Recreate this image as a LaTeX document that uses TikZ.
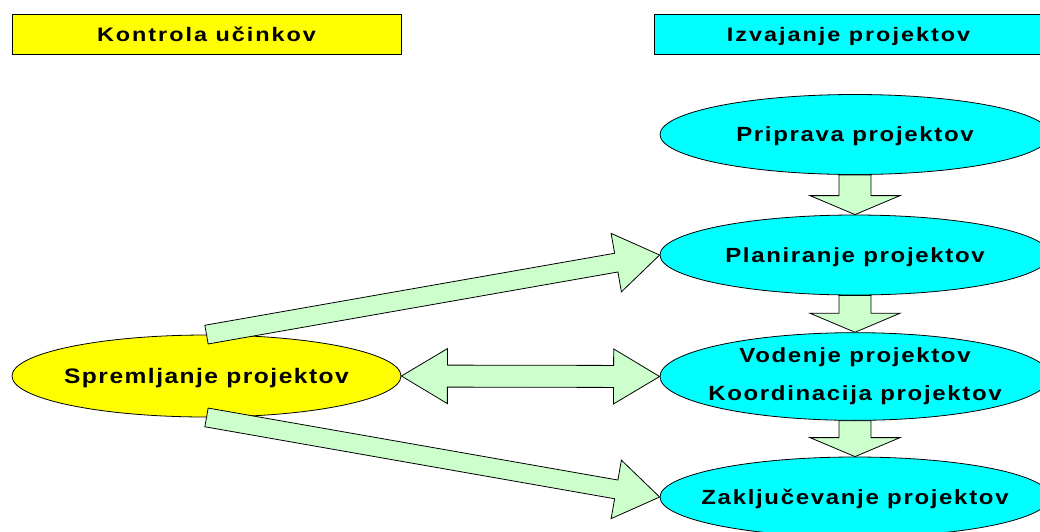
\documentclass[tikz,border=0pt]{standalone}
\usepackage{graphicx}
\usepackage{fontspec}
\usetikzlibrary{calc,shapes.geometric}
\setmainfont{Liberation Sans}
\newfontfamily\hdrfont{Liberation Sans}[LetterSpace=8.5]
\newfontfamily\ellfont{Liberation Sans}[LetterSpace=7]
\newfontfamily\sprfont{Liberation Sans}[LetterSpace=6]

\definecolor{hdryellow}{HTML}{FFFF00}
\definecolor{hdrcyan}{HTML}{00FFFF}
\definecolor{arrowgreen}{HTML}{CCFFCC}

% centred, slightly widened text of zero width, so the shape keeps its own size
\newcommand\ctr[2][1.17]{\makebox[0pt]{\scalebox{#1}[1]{#2}}}

% block arrow: start, end, half shaft width, half head width, head length
\newcommand\blockarrow[5]{%
  \path ($(#2)!#5!(#1)$) coordinate (hb);
  \draw[blockarr]
    ($(#1)!#3!90:(#2)$) -- ($(hb)!#3!90:(#2)$) -- ($(hb)!#4!90:(#2)$) --
    (#2) --
    ($(hb)!#4!-90:(#2)$) -- ($(hb)!#3!-90:(#2)$) -- ($(#1)!#3!-90:(#2)$) -- cycle;
}
% block arrow with heads at both ends
\newcommand\doublearrow[5]{%
  \path ($(#2)!#5!(#1)$) coordinate (hb1);
  \path ($(#1)!#5!(#2)$) coordinate (hb2);
  \draw[blockarr]
    (#1) -- ($(hb2)!#4!90:(#2)$) -- ($(hb2)!#3!90:(#2)$) --
    ($(hb1)!#3!90:(#2)$) -- ($(hb1)!#4!90:(#2)$) -- (#2) --
    ($(hb1)!#4!-90:(#2)$) -- ($(hb1)!#3!-90:(#2)$) --
    ($(hb2)!#3!-90:(#2)$) -- ($(hb2)!#4!-90:(#2)$) -- cycle;
}

\tikzset{
  hdrbox/.style={draw=black, line width=0.8pt, minimum width=389pt,
    minimum height=40pt, inner sep=0pt, text height=14pt, text depth=0pt,
    font=\hdrfont\bfseries\fontsize{19.5pt}{23pt}\selectfont},
  ell/.style={ellipse, draw=black, line width=0.8pt, fill=hdrcyan,
    minimum width=390pt, minimum height=80pt, inner sep=0pt,
    font=\ellfont\bfseries\fontsize{20.5pt}{24pt}\selectfont},
  oneline/.style={text height=14.7pt, text depth=0pt},
  blockarr/.style={draw=black, line width=0.8pt, fill=arrowgreen, line join=miter}
}

\begin{document}
\begin{tikzpicture}[x=1pt, y=-1pt]
  \clip (0,0) rectangle (1040,531);
  \fill[white] (0,0) rectangle (1040,531);

  % column headings
  \node[hdrbox, fill=hdryellow] (kontrola) at (206.5,34) {\ctr[1.2]{Kontrola učinkov}};
  \node[hdrbox, fill=hdrcyan]   (izvajanje) at (848.5,34) {\ctr[1.2]{Izvajanje projektov}};

  % project phases
  \node[ell, oneline] (prip) at (855,134.5) {\ctr{Priprava projektov}};
  \node[ell, oneline] (plan) at (855,255)   {\ctr{Planiranje projektov}};
  \node[ell] (vod) at (855,376.5)
    {\ctr{\begin{tabular}{@{}c@{}}Vodenje projektov\\[14pt]Koordinacija projektov\end{tabular}}};
  \node[ell, oneline] (zak) at (855,497)   {\ctr{Zaključevanje projektov}};

  % monitoring
  \node[ell, text height=15pt, text depth=0pt, fill=hdryellow,
        minimum width=389pt, minimum height=82pt,
        font=\sprfont\bfseries\fontsize{21pt}{25pt}\selectfont]
        (sprem) at (206.5,376) {\ctr{Spremljanje projektov}};

  % flow between phases
  \blockarrow{prip.south}{plan.north}{16pt}{45pt}{19pt}
  \blockarrow{plan.south}{vod.north}{16pt}{45pt}{19pt}
  \blockarrow{vod.south}{zak.north}{16pt}{45pt}{19pt}

  % links from monitoring
  \blockarrow{sprem.north}{plan.west}{9.5pt}{29.7pt}{44pt}
  \blockarrow{sprem.south}{zak.west}{9.5pt}{29.7pt}{44pt}
  \doublearrow{sprem.east}{vod.west}{11pt}{27.5pt}{46pt}
\end{tikzpicture}
\end{document}
